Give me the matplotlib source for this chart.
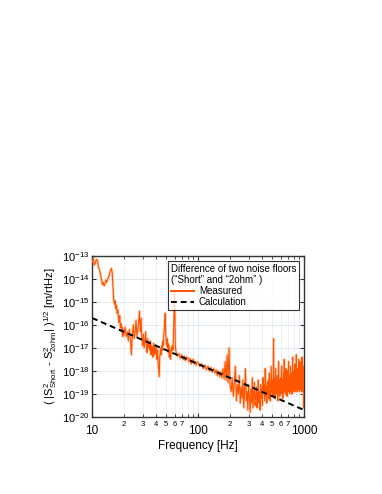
"""Difference of two noise floors: measured vs calculation."""
import numpy as np
import matplotlib
matplotlib.use("Agg")
import matplotlib.pyplot as plt
from matplotlib.ticker import LogLocator, FixedLocator, FixedFormatter

plt.rcParams["font.family"] = ["Liberation Sans", "DejaVu Sans"]
plt.rcParams["mathtext.fontset"] = "custom"
plt.rcParams["mathtext.rm"] = "Liberation Sans"
plt.rcParams["mathtext.it"] = "Liberation Sans"

# measured trace, log10 of amplitude [m/rtHz]
freq_low = [10.0, 10.25, 10.5, 10.75, 11.0, 11.25, 11.5, 11.75, 12.0, 12.25,
            12.5, 12.75, 13.0, 13.25, 13.5, 13.75, 14.0, 14.25, 14.5, 14.75,
            15.0, 15.25, 15.5, 15.75, 16.0, 16.25, 16.5, 16.75, 17.0, 17.25,
            17.5, 17.75, 18.0, 18.25, 18.5, 18.75, 19.0, 19.25, 19.5, 19.75, 20.0]
log_low = [-13.3, -13.1, -13.4, -13.3, -13.15, -13.2, -13.5, -13.6, -13.8, -14.0,
           -14.25, -14.15, -14.3, -14.2, -14.05, -14.15, -14.0, -13.95, -13.85, -13.7,
           -13.6, -13.55, -13.75, -14.3, -14.9, -15.1, -14.95, -15.3, -15.15, -15.5,
           -15.35, -15.7, -15.9, -15.6, -16.1, -15.95, -16.3, -16.1, -16.5, -16.2, -16.4]

freq_mid = [20.5, 21, 21.5, 22, 22.5, 23, 23.5, 24, 24.5, 25, 25.5, 26, 26.5, 27, 27.5,
            28, 28.5, 29, 29.5, 30, 30.5, 31, 31.5, 32, 32.5, 33, 33.5, 34, 34.5, 35,
            35.5, 36, 36.5, 37, 37.5, 38, 38.5, 39, 39.5, 40, 40.5, 41, 41.5, 42, 42.5,
            43, 43.5, 44, 44.5, 45, 45.5, 46, 46.5, 47, 47.5, 48, 48.5, 49, 49.5, 50,
            50.5, 51, 51.5, 52, 52.5, 53, 53.5, 54, 54.5, 55, 55.5, 56, 56.5, 57, 57.5,
            58, 58.5, 59, 59.5, 60, 60.5, 61]
log_mid = [-16.1, -16.5, -16.3, -16.7, -16.2, -16.6, -17.3, -16.4, -16.0, -16.6,
           -16.3, -15.8, -16.5, -16.2, -15.9, -15.4, -16.3, -15.7, -16.6, -16.9,
           -16.4, -17.0, -16.7, -16.3, -16.9, -17.2, -16.6, -17.0, -16.8, -17.1,
           -16.7, -17.3, -16.9, -17.0, -17.4, -16.8, -17.1, -17.3, -16.9, -17.2,
           -17.0, -17.5, -17.1, -17.6, -17.9, -18.25, -17.4, -17.2, -17.0, -17.3,
           -16.9, -17.1, -16.7, -16.9, -16.4, -16.2, -15.8, -15.5, -16.3, -16.7,
           -16.9, -16.6, -17.0, -16.8, -17.2, -16.9, -17.4, -17.1, -17.3, -17.5,
           -17.2, -17.0, -17.1, -16.9, -17.0, -17.1, -16.6, -16.0, -15.2, -14.6,
           -15.6, -16.9]

freq_hi = [62, 64, 66, 68, 70, 72, 74, 76, 78, 80, 82, 84, 86, 88, 90, 92, 94, 96, 98, 100,
           104, 108, 112, 116, 120, 124, 128, 132, 136, 140, 144, 148, 152, 156, 160,
           164, 168, 172, 176, 180, 184, 188, 192, 196, 200]
log_hi = [-17.2, -17.35, -17.25, -17.45, -17.3, -17.5, -17.35, -17.55, -17.4, -17.45,
          -17.6, -17.45, -17.7, -17.55, -17.5, -17.7, -17.6, -17.75, -17.6, -17.65,
          -17.8, -17.7, -17.9, -17.75, -17.95, -17.8, -18.0, -17.85, -18.05, -17.9,
          -18.1, -17.95, -18.2, -18.0, -18.25, -18.05, -18.3, -17.9, -18.35, -17.6,
          -18.4, -17.3, -18.5, -17.0, -18.6]

freq_top = list(range(205, 1001, 5))
log_top = [-18.9, -18.3, -19.1, -18.5, -17.8, -19.3, -18.6, -19.0, -18.2, -19.4,
           -18.7, -19.2, -18.4, -19.6, -18.8, -17.9, -19.3, -18.9, -19.7, -18.6,
           -19.1, -19.8, -18.8, -19.4, -18.3, -19.6, -19.0, -18.5, -19.5, -19.2,
           -18.7, -19.6, -19.1, -18.4, -19.4, -18.9, -19.7, -18.6, -19.2, -18.8,
           -19.5, -18.3, -19.0, -18.6, -19.3, -17.9, -19.1, -18.7, -19.4, -18.5,
           -19.0, -18.4, -19.2, -18.1, -18.9, -19.3, -18.6, -17.8, -19.0, -18.7,
           -18.4, -19.1, -16.6, -18.8, -18.3, -19.2, -18.6, -17.9, -19.0, -18.5,
           -18.9, -18.2, -19.3, -18.6, -17.6, -18.9, -18.4, -19.1, -18.7, -18.3,
           -19.0, -18.5, -17.8, -18.9, -18.4, -19.2, -18.6, -18.1, -18.9, -17.5,
           -18.7, -18.3, -19.0, -18.6, -17.9, -18.8, -18.4, -19.1, -18.5, -18.0,
           -18.8, -18.3, -17.6, -18.9, -18.5, -19.0, -18.2, -18.7, -17.8, -18.9,
           -18.4, -18.8, -18.1, -19.0, -18.6, -17.4, -18.7, -18.3, -18.9, -18.5,
           -18.0, -18.8, -18.4, -17.7, -18.9, -18.5, -18.2, -18.8, -17.3, -18.6,
           -18.3, -18.9, -18.5, -17.9, -18.7, -18.2, -18.8, -17.5, -18.6, -18.4,
           -18.9, -18.1, -18.6, -17.6, -18.8, -18.3, -18.7, -18.0, -18.9, -18.5,
           -17.4, -18.7, -18.2, -18.9, -18.4, -17.8, -18.8, -18.3, -19.6, -18.6]

# calculation: straight line on log-log
calc_freq = [10, 1000]
calc_val = [2e-16, 2e-20]

freq = np.array(freq_low + freq_mid + freq_hi + freq_top, dtype=float)
meas = 10.0 ** np.array(log_low + log_mid + log_hi + log_top)

fig = plt.figure(figsize=(3.82, 4.94), dpi=100)
ax = fig.add_axes([0.241, 0.156, 0.555, 0.326])

ax.plot(freq, meas, color="#FFB48A", lw=2.0, alpha=0.55, zorder=2)
ax.plot(freq, meas, color="#FF5500", lw=0.8, zorder=3, label="Measured")
ax.plot(calc_freq, calc_val, color="black", lw=1.4, ls=(0, (3, 2)), zorder=4,
        label="Calculation")

ax.set_xscale("log")
ax.set_yscale("log")
ax.set_xlim(10, 1000)
ax.set_ylim(1e-20, 1e-13)

ax.yaxis.set_major_locator(LogLocator(base=10, numticks=20))
ax.yaxis.set_minor_locator(FixedLocator([]))
minor_x = [m * d for d in (10, 100) for m in range(2, 10)]
minor_lbl = [str(m) if m <= 7 else "" for d in (10, 100) for m in range(2, 10)]
ax.xaxis.set_minor_locator(FixedLocator(minor_x))
ax.xaxis.set_minor_formatter(FixedFormatter(minor_lbl))
ax.xaxis.set_major_locator(FixedLocator([10, 100, 1000]))
ax.xaxis.set_major_formatter(FixedFormatter(["10", "100", "1000"]))

ax.tick_params(which="both", direction="in", top=True, right=True, colors="#333333")
ax.tick_params(axis="x", which="major", labelsize=8.5, length=3, pad=6)
ax.tick_params(axis="x", which="minor", labelsize=5.5, length=2, pad=3)
ax.tick_params(axis="y", which="major", labelsize=8, length=3, pad=2)
for lbl in ax.get_xticklabels() + ax.get_yticklabels() + ax.get_xticklabels(minor=True):
    lbl.set_color("black")

ax.grid(True, which="major", color="#D8E4EE", lw=0.6)
ax.grid(True, which="minor", axis="x", color="#E3EBF2", lw=0.5)
ax.set_axisbelow(True)
for s in ax.spines.values():
    s.set_color("#333333")
    s.set_linewidth(1.0)

ax.set_xlabel("Frequency [Hz]", fontsize=8.5, labelpad=2)
ax.set_ylabel(r"( |S$^2_{\rm Short}$ - S$^2_{\rm 2ohm}$| )$^{1/2}$ [m/rtHz]",
              fontsize=8, labelpad=2)

leg = ax.legend(loc="upper right", title="Difference of two noise floors\n(\u201cShort\u201d and \u201c2ohm\u201d )",
                fontsize=7, title_fontsize=7, frameon=True, fancybox=False,
                borderaxespad=0.5, handlelength=2.4, borderpad=0.3, labelspacing=0.1,
                handletextpad=0.5)
leg._legend_box.align = "left"
leg.get_frame().set_edgecolor("black")
leg.get_frame().set_linewidth(0.8)
for line in leg.get_lines():
    line.set_linewidth(1.4)

fig.savefig("out.png", dpi=100)
